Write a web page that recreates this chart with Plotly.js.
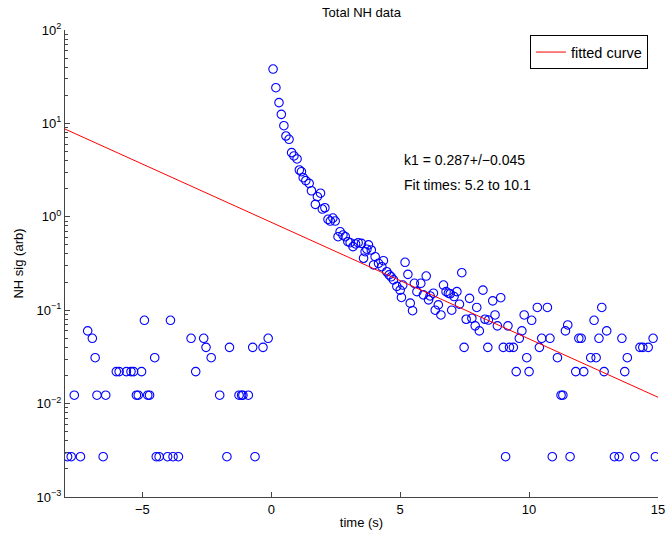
<!DOCTYPE html>
<html>
<head>
<meta charset="utf-8">
<script src="https://cdn.plot.ly/plotly-3.0.1.min.js"></script>
<style>html,body{margin:0;padding:0;background:#fff;}#chart{width:669px;height:538px;}</style>
</head>
<body>
<div id="chart"></div>
<script>
// Measured samples (time in s, NH signal in arb. units)
var timeS = [
  -7.90,-7.76,-7.64,-7.40,-7.12,-6.94,-6.83,-6.76,-6.52,-6.42,
  -6.01,-5.90,-5.62,-5.44,-5.34,-5.23,-5.16,-5.03,-4.92,-4.79,
  -4.72,-4.52,-4.46,-4.35,-4.02,-3.91,-3.81,-3.60,-3.11,-2.93,
  -2.62,-2.53,-2.33,-2.00,-1.72,-1.62,-1.25,-1.15,-1.10,-0.89,
  -0.72,-0.63,-0.32,-0.12,
  0.07,0.18,0.30,0.39,0.49,0.57,0.69,0.79,0.88,1.00,
  1.09,1.17,1.24,1.34,1.47,1.56,1.71,1.79,1.91,1.98,
  2.08,2.20,2.29,2.39,2.48,2.59,2.67,2.78,2.87,2.97,
  3.06,3.17,3.27,3.37,3.50,3.58,3.64,3.71,3.77,3.88,
  3.97,4.03,4.16,4.29,4.35,4.48,4.57,4.65,4.74,4.87,
  5.00,5.05,5.10,5.19,5.30,5.39,5.48,5.55,5.65,5.80,
  5.90,6.01,6.10,6.16,6.29,6.36,6.48,6.58,6.68,6.78,
  6.87,6.94,7.00,7.09,7.20,7.30,7.39,7.48,7.56,7.69,
  7.78,7.91,7.97,8.07,8.21,8.29,8.40,8.42,8.59,8.68,
  8.77,8.90,9.00,9.09,9.18,9.24,9.39,9.50,9.62,9.72,
  9.81,9.91,10.00,10.10,10.32,10.40,10.49,10.71,10.81,10.90,
  11.10,11.24,11.31,11.41,11.50,11.59,11.81,11.93,12.02,12.12,
  12.39,12.52,12.60,12.71,12.82,12.91,13.01,13.31,13.49,13.60,
  13.71,13.81,14.10,14.30,14.41,14.62,14.81,14.90
];
var nhSig = [
  0.0027,0.0027,0.0123,0.0027,0.060,0.050,0.031,0.0123,0.0027,0.0123,
  0.022,0.022,0.022,0.022,0.022,0.0123,0.0123,0.022,0.078,0.0123,
  0.0123,0.031,0.0027,0.0027,0.0027,0.078,0.0027,0.0027,0.050,0.022,
  0.050,0.040,0.031,0.0123,0.0027,0.040,0.0123,0.0123,0.0123,0.0123,
  0.040,0.0027,0.040,0.050,
  38.2,24.1,16.7,12.5,9.45,7.33,6.76,4.86,4.48,4.16,
  3.17,3.04,2.62,2.44,2.28,1.90,1.36,1.64,1.79,1.21,
  1.25,0.94,0.90,0.97,0.90,0.612,0.692,0.638,0.612,0.541,
  0.528,0.479,0.512,0.528,0.52,0.36,0.423,0.45,0.50,0.441,
  0.305,0.374,0.318,0.292,0.339,0.258,0.239,0.228,0.211,0.180,
  0.164,0.137,0.186,0.326,0.242,0.119,0.0988,0.194,0.158,0.194,
  0.146,0.232,0.129,0.142,0.152,0.100,0.114,0.089,0.186,0.158,
  0.152,0.150,0.100,0.140,0.158,0.116,0.252,0.040,0.080,0.134,
  0.082,0.068,0.107,0.060,0.164,0.080,0.040,0.0785,0.126,0.089,
  0.068,0.136,0.040,0.0027,0.068,0.040,0.040,0.022,0.050,0.060,
  0.089,0.031,0.022,0.078,0.107,0.040,0.050,0.107,0.050,0.0027,
  0.031,0.0123,0.0123,0.060,0.0695,0.0027,0.022,0.050,0.050,0.022,
  0.031,0.078,0.031,0.050,0.107,0.022,0.060,0.0027,0.0027,0.050,
  0.022,0.031,0.0027,0.040,0.040,0.040,0.050,0.0027
];
// Fitted curve end points
var fitTime = [-8, 15];
var fitSig = [8.7, 0.0117];
// Axis tick labels
var xTickVals = [-5, 0, 5, 10, 15];
var yTickVals = [0.001, 0.01, 0.1, 1, 10, 100];
var yTickText = ['10<sup>\u22123</sup>','10<sup>\u22122</sup>','10<sup>\u22121</sup>','10<sup>0</sup>','10<sup>1</sup>','10<sup>2</sup>'];
var annoLines = ['k1 = 0.287+/\u22120.045', 'Fit times: 5.2 to 10.1'];
var annoX = 5.08;
var annoY = [4.06, 2.19];

var minorVals = [];
for (var e = -3; e < 2; e++) { for (var m = 2; m <= 9; m++) { minorVals.push(m * Math.pow(10, e)); } }

var FONT = 'Liberation Sans, Arial, Helvetica, sans-serif';
var traces = [
  {x: timeS, y: nhSig, type: 'scatter', mode: 'markers', showlegend: false,
   marker: {symbol: 'circle-open', size: 8.5, color: '#0000ff', line: {width: 1.1, color: '#0000ff'}},
   cliponaxis: true},
  {x: fitTime, y: fitSig, type: 'scatter', mode: 'lines', name: 'fitted curve',
   line: {color: '#ff0000', width: 1}}
];
var layout = {
  width: 669, height: 538,
  margin: {l: 65, r: 11, t: 30, b: 41, pad: 0},
  paper_bgcolor: '#fff', plot_bgcolor: '#fff',
  font: {family: FONT, size: 13, color: '#000'},
  title: {text: 'Total NH data', font: {family: FONT, size: 13, color: '#000'},
          xref: 'paper', x: 0.5, xanchor: 'center', yref: 'container', y: 1 - 12/538, yanchor: 'middle'},
  xaxis: {range: [-8, 15], tickmode: 'array', tickvals: xTickVals,
          ticks: 'inside', ticklen: 5, tickcolor: '#444', tickwidth: 1,
          showline: true, linecolor: '#444', linewidth: 1, mirror: false,
          showgrid: false, zeroline: false,
          tickfont: {family: FONT, size: 13, color: '#000'},
          title: {text: 'time (s)', font: {family: FONT, size: 13, color: '#000'}, standoff: 2}},
  yaxis: {type: 'log', range: [-3, 2], tickmode: 'array', tickvals: yTickVals, ticktext: yTickText,
          ticks: 'inside', ticklen: 5, tickcolor: '#444', tickwidth: 1,
          minor: {tickmode: 'array', tickvals: minorVals, ticks: 'inside', ticklen: 3, tickcolor: '#444', showgrid: false},
          showline: true, linecolor: '#444', linewidth: 1, mirror: false,
          showgrid: false, zeroline: false,
          tickfont: {family: FONT, size: 13, color: '#000'},
          title: {text: 'NH sig (arb)', font: {family: FONT, size: 13, color: '#000'}, standoff: 10}},
  legend: {x: 0.983, xanchor: 'right', y: 0.989, yanchor: 'top',
           bgcolor: '#fff', bordercolor: '#000', borderwidth: 1,
           font: {family: FONT, size: 14.5, color: '#000'}},
  annotations: [
    {x: annoX, y: Math.log10(annoY[0]), xref: 'x', yref: 'y', text: annoLines[0], showarrow: false,
     xanchor: 'left', yanchor: 'middle', font: {family: FONT, size: 14, color: '#000'}},
    {x: annoX, y: Math.log10(annoY[1]), xref: 'x', yref: 'y', text: annoLines[1], showarrow: false,
     xanchor: 'left', yanchor: 'middle', font: {family: FONT, size: 14, color: '#000'}}
  ]
};
Plotly.newPlot('chart', traces, layout, {staticPlot: true, displayModeBar: false});
</script>
</body>
</html>
